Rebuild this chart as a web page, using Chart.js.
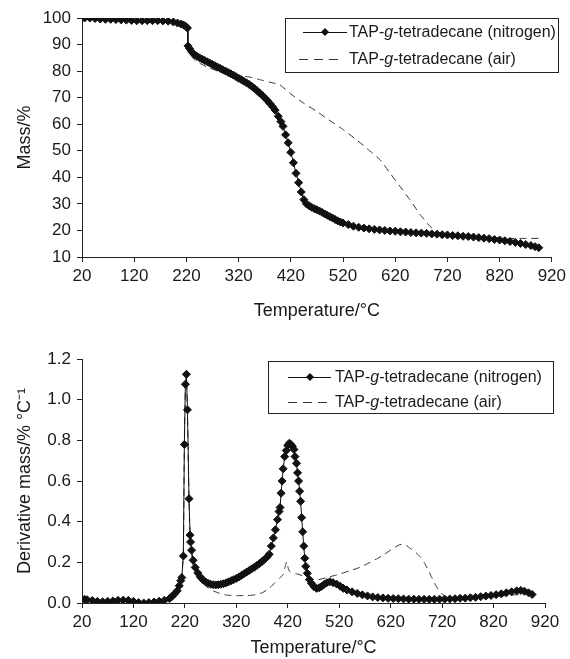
<!DOCTYPE html>
<html>
<head>
<meta charset="utf-8">
<script src="https://cdn.jsdelivr.net/npm/chart.js@4.4.1/dist/chart.umd.min.js"></script>
<style>
  body { margin: 0; background: #fff; }
  #wrap { position: relative; width: 570px; height: 659px; }
  canvas { position: absolute; left: 0; }
  #tga { top: 0; }
  #dtg { top: 325px; }
</style>
</head>
<body>
<div id="wrap">
  <canvas id="tga" width="570" height="325"></canvas>
  <canvas id="dtg" width="570" height="334"></canvas>
</div>
<script>
// TGA / DTG of TAP-g-tetradecane

const xTicks = [20, 120, 220, 320, 420, 520, 620, 720, 820, 920];
const massTicks = [10, 20, 30, 40, 50, 60, 70, 80, 90, 100];
const derivTicks = [0, 0.2, 0.4, 0.6, 0.8, 1.0, 1.2];

// top chart: mass %
const n2MassT = [25, 35, 45, 55, 65, 75, 85, 95, 105, 115, 125, 135, 145, 155, 165, 175, 185, 195, 203, 210, 215, 219, 222, 223, 226, 230, 235, 240, 245, 250, 255, 260, 265, 270, 275, 280, 285, 290, 295, 300, 305, 310, 315, 320, 325, 330, 335, 340, 345, 350, 355, 360, 365, 370, 375, 380, 385, 390, 396, 401, 405, 410, 415, 420, 425, 430, 435, 440, 445, 450, 455, 460, 465, 470, 475, 480, 485, 490, 495, 500, 505, 510, 515, 520, 530, 540, 550, 560, 570, 580, 590, 600, 610, 620, 630, 640, 650, 660, 670, 680, 690, 700, 710, 720, 730, 740, 750, 760, 770, 780, 790, 800, 810, 820, 830, 840, 850, 860, 870, 880, 888, 895];
const n2Mass = [100, 100, 99.8, 99.6, 99.5, 99.5, 99.4, 99.3, 99.2, 99.1, 99.0, 99.0, 99.0, 99.0, 99.0, 98.9, 98.8, 98.5, 98.1, 97.7, 97.3, 96.8, 96.2, 89.5, 88.5, 87.3, 86.3, 85.6, 85, 84.5, 84, 83.5, 83, 82.5, 82, 81.5, 81, 80.5, 80, 79.5, 79, 78.5, 77.9, 77.3, 76.8, 76.2, 75.6, 75, 74.3, 73.5, 72.7, 71.8, 70.9, 70, 68.9, 67.8, 66.6, 65.3, 63, 61, 59.2, 56, 53, 49.4, 45.5, 41.5, 38, 34.5, 31.6, 30, 29.3, 28.7, 28.2, 27.8, 27.3, 26.8, 26.2, 25.7, 25.2, 24.7, 24.1, 23.6, 23.2, 22.8, 22.2, 21.6, 21.2, 20.9, 20.6, 20.4, 20.2, 20, 19.8, 19.7, 19.5, 19.4, 19.2, 19.1, 19, 18.9, 18.7, 18.6, 18.4, 18.3, 18.1, 18, 17.8, 17.7, 17.5, 17.3, 17.1, 16.9, 16.6, 16.4, 16.1, 15.8, 15.5, 15.1, 14.7, 14.3, 13.9, 13.5];

const airMassT = [25, 100, 180, 215, 222, 223, 226, 232, 240, 250, 260, 280, 300, 320, 340, 360, 380, 399, 418, 444, 470, 492, 521, 546, 565, 591, 610, 629, 648, 668, 687, 700, 720, 760, 800, 840, 872, 900];
const airMass = [100, 99.3, 98.9, 97.3, 96, 89, 87, 85, 83.5, 82.5, 81.5, 80, 78.8, 78.2, 77.8, 76.8, 75.8, 74.8, 71.7, 68, 64.8, 61.7, 57.9, 54.1, 51, 46.6, 41.6, 36.6, 31.6, 25.9, 21.5, 19.5, 18.4, 17.8, 17.3, 17, 17, 17];

// bottom chart: derivative mass %/°C
const n2DerivT = [25, 30, 40, 50, 60, 70, 80, 90, 100, 110, 120, 130, 140, 150, 160, 170, 180, 190, 195, 200, 205, 209, 212, 214, 217, 219, 221, 223, 225, 228, 230, 231, 233, 236, 240, 245, 250, 255, 260, 265, 270, 275, 280, 285, 290, 295, 300, 305, 310, 315, 320, 325, 330, 335, 340, 345, 350, 355, 360, 365, 370, 375, 380, 384, 388, 392, 396, 400, 403, 405, 407, 409, 411, 414, 417, 420, 423, 426, 429, 432, 434, 437, 439, 441, 443, 445, 447, 449, 451, 453, 455, 458, 462, 466, 471, 476, 481, 486, 491, 496, 502, 508, 515, 522, 528, 535, 545, 555, 565, 575, 585, 595, 605, 615, 625, 635, 645, 655, 665, 675, 685, 695, 705, 715, 725, 735, 745, 755, 765, 775, 785, 795, 805, 815, 825, 835, 845, 855, 865, 873, 880, 888, 895];
const n2Deriv = [0.018, 0.016, 0.012, 0.008, 0.006, 0.008, 0.01, 0.013, 0.014, 0.013, 0.008, 0.002, 0.0, 0.002, 0.005, 0.009, 0.013, 0.022, 0.032, 0.045, 0.06, 0.085, 0.11, 0.125, 0.231, 0.78, 1.076, 1.125, 0.95, 0.513, 0.334, 0.30, 0.26, 0.21, 0.175, 0.148, 0.128, 0.114, 0.104, 0.097, 0.092, 0.09, 0.089, 0.09, 0.092, 0.095, 0.099, 0.104, 0.11, 0.115, 0.121, 0.128, 0.136, 0.144, 0.152, 0.16, 0.168, 0.176, 0.185, 0.194, 0.204, 0.215, 0.227, 0.24, 0.28, 0.32, 0.36, 0.41, 0.45, 0.47, 0.54, 0.6, 0.66, 0.72, 0.75, 0.775, 0.786, 0.78, 0.77, 0.755, 0.72, 0.687, 0.64, 0.6, 0.55, 0.5, 0.42, 0.35, 0.28, 0.22, 0.18, 0.146, 0.115, 0.097, 0.08, 0.072, 0.075, 0.082, 0.092, 0.1, 0.105, 0.1, 0.093, 0.082, 0.072, 0.064, 0.055, 0.047, 0.04, 0.035, 0.03, 0.027, 0.025, 0.023, 0.022, 0.021, 0.02, 0.019, 0.019, 0.018, 0.018, 0.018, 0.018, 0.019, 0.019, 0.02, 0.021, 0.023, 0.024, 0.026, 0.028, 0.031, 0.034, 0.037, 0.041, 0.045, 0.05, 0.055, 0.06, 0.062, 0.058, 0.05, 0.042];

const airDerivT = [25, 60, 100, 140, 180, 200, 210, 214, 217, 219, 221, 223, 225, 228, 231, 235, 240, 250, 262, 275, 290, 301, 320, 340, 353, 370, 385, 395, 405, 411, 415, 418, 421, 424, 435, 444, 460, 476, 495, 515, 540, 560, 580, 595, 606, 615, 625, 635, 641, 650, 658, 668, 677, 685, 693, 700, 709, 718, 726, 740, 780, 820, 860, 880];
const airDeriv = [0.018, 0.006, 0.014, 0.0, 0.013, 0.045, 0.1, 0.14, 0.25, 0.8, 1.07, 1.1, 0.93, 0.5, 0.3, 0.2, 0.16, 0.115, 0.08, 0.06, 0.045, 0.039, 0.036, 0.037, 0.039, 0.05, 0.075, 0.1, 0.125, 0.14, 0.18, 0.203, 0.17, 0.154, 0.145, 0.138, 0.125, 0.113, 0.125, 0.138, 0.158, 0.175, 0.2, 0.22, 0.236, 0.252, 0.269, 0.284, 0.289, 0.283, 0.269, 0.25, 0.228, 0.2, 0.162, 0.125, 0.08, 0.05, 0.031, 0.025, 0.025, 0.03, 0.04, 0.04];

const seriesNames = ['nitrogen', 'air'];

const FONT = '"Liberation Sans", Arial, sans-serif';
const INK = '#1a1a1a';

function pts(xs, ys) {
    return xs.map((x, i) => ({ x: x, y: ys[i] }));
}

// legend box drawn by hand because of the italic "g"
const boxLegend = {
    id: 'boxLegend',
    afterDraw(chart, args, o) {
        const ctx = chart.ctx;
        ctx.save();
        ctx.strokeStyle = '#222';
        ctx.lineWidth = 1;
        ctx.fillStyle = '#fff';
        ctx.fillRect(o.left, o.top, o.right - o.left, o.bottom - o.top);
        ctx.strokeRect(o.left + 0.5, o.top + 0.5, o.right - o.left, o.bottom - o.top);

        seriesNames.forEach((name, i) => {
            const y = o.rows[i];
            ctx.beginPath();
            ctx.strokeStyle = i === 0 ? '#111' : '#333';
            ctx.setLineDash(i === 0 ? [] : [9, 6]);
            ctx.moveTo(i === 0 ? o.lineFrom : o.dashFrom, y + 0.5);
            ctx.lineTo(i === 0 ? o.lineTo : o.dashTo, y + 0.5);
            ctx.stroke();
            ctx.setLineDash([]);
            if (i === 0) {
                const c = o.marker, r = 4;
                ctx.beginPath();
                ctx.moveTo(c, y - r);
                ctx.lineTo(c + r, y);
                ctx.lineTo(c, y + r);
                ctx.lineTo(c - r, y);
                ctx.closePath();
                ctx.fillStyle = '#111';
                ctx.fill();
            }
            // text: TAP-<i>g</i>-tetradecane (name)
            ctx.fillStyle = INK;
            ctx.textBaseline = 'middle';
            let x = o.textX;
            const parts = [['TAP-', false], ['g', true], ['-tetradecane (' + name + ')', false]];
            parts.forEach(p => {
                ctx.font = (p[1] ? 'italic ' : '') + '16px ' + FONT;
                ctx.fillText(p[0], x, y + 1);
                x += ctx.measureText(p[0]).width;
            });
        });
        ctx.restore();
    }
};

function makeChart(id, opts) {
    const ctx = document.getElementById(id).getContext('2d');
    return new Chart(ctx, {
        type: 'line',
        data: {
            datasets: [{
                label: 'TAP-g-tetradecane (nitrogen)',
                data: opts.n2,
                borderColor: '#111',
                borderWidth: 1,
                pointStyle: 'rectRot',
                pointRadius: 4,
                pointBackgroundColor: '#111',
                pointBorderColor: '#111',
                pointBorderWidth: 1,
                tension: 0,
                order: 1
            }, {
                label: 'TAP-g-tetradecane (air)',
                data: opts.air,
                borderColor: '#333',
                borderWidth: 1,
                borderDash: [7, 5],
                pointRadius: 0,
                tension: 0.2,
                order: 2
            }]
        },
        options: {
            responsive: false,
            animation: false,
            devicePixelRatio: 1,
            layout: { padding: opts.padding },
            plugins: {
                legend: { display: false },
                tooltip: { enabled: false },
                boxLegend: opts.legend
            },
            scales: {
                x: {
                    type: 'linear',
                    min: 20,
                    max: 920,
                    afterBuildTicks: s => { s.ticks = xTicks.map(v => ({ value: v })); },
                    afterFit: s => { s.height = opts.xHeight; },
                    grid: { display: true, drawOnChartArea: false, drawTicks: true, tickLength: 5, color: '#222' },
                    border: { display: true, color: '#222', width: 1 },
                    ticks: { font: { family: FONT, size: 17 }, color: INK, padding: 4, maxRotation: 0 },
                    title: { display: true, text: 'Temperature/°C', font: { family: FONT, size: 18 }, color: INK, padding: { top: 0, bottom: opts.xTitlePad } }
                },
                y: {
                    type: 'linear',
                    min: opts.yMin,
                    max: opts.yMax,
                    afterBuildTicks: s => { s.ticks = opts.yTicks.map(v => ({ value: v })); },
                    afterFit: s => { s.width = 82; },
                    grid: { display: true, drawOnChartArea: false, drawTicks: true, tickLength: 5, color: '#222' },
                    border: { display: true, color: '#222', width: 1 },
                    ticks: { font: { family: FONT, size: 17 }, color: INK, padding: 6, callback: opts.yFmt },
                    title: { display: true, text: opts.yTitle, font: { family: FONT, size: 18 }, color: INK, padding: { top: 14, bottom: 0 } }
                }
            }
        },
        plugins: [boxLegend]
    });
}

makeChart('tga', {
    n2: pts(n2MassT, n2Mass),
    air: pts(airMassT, airMass),
    yMin: 10, yMax: 100, yTicks: massTicks,
    yFmt: v => String(v),
    yTitle: 'Mass/%',
    padding: { top: 18, right: 18, left: 0, bottom: 0 },
    xHeight: 68,
    xTitlePad: 3,
    legend: { left: 285, top: 18, right: 558, bottom: 72, rows: [32, 59], lineFrom: 303, lineTo: 347, dashFrom: 299, dashTo: 341, marker: 325, textX: 349 }
});

makeChart('dtg', {
    n2: pts(n2DerivT, n2Deriv),
    air: pts(airDerivT, airDeriv),
    yMin: 0, yMax: 1.2, yTicks: derivTicks,
    yFmt: v => v.toFixed(1),
    yTitle: 'Derivative mass/% °C⁻¹',
    padding: { top: 34, right: 25, left: 0, bottom: 0 },
    xHeight: 56,
    xTitlePad: 0,
    legend: { left: 268, top: 36, right: 553, bottom: 88, rows: [52, 77], lineFrom: 288, lineTo: 331, dashFrom: 288, dashTo: 330, marker: 310, textX: 335 }
});
</script>
</body>
</html>
